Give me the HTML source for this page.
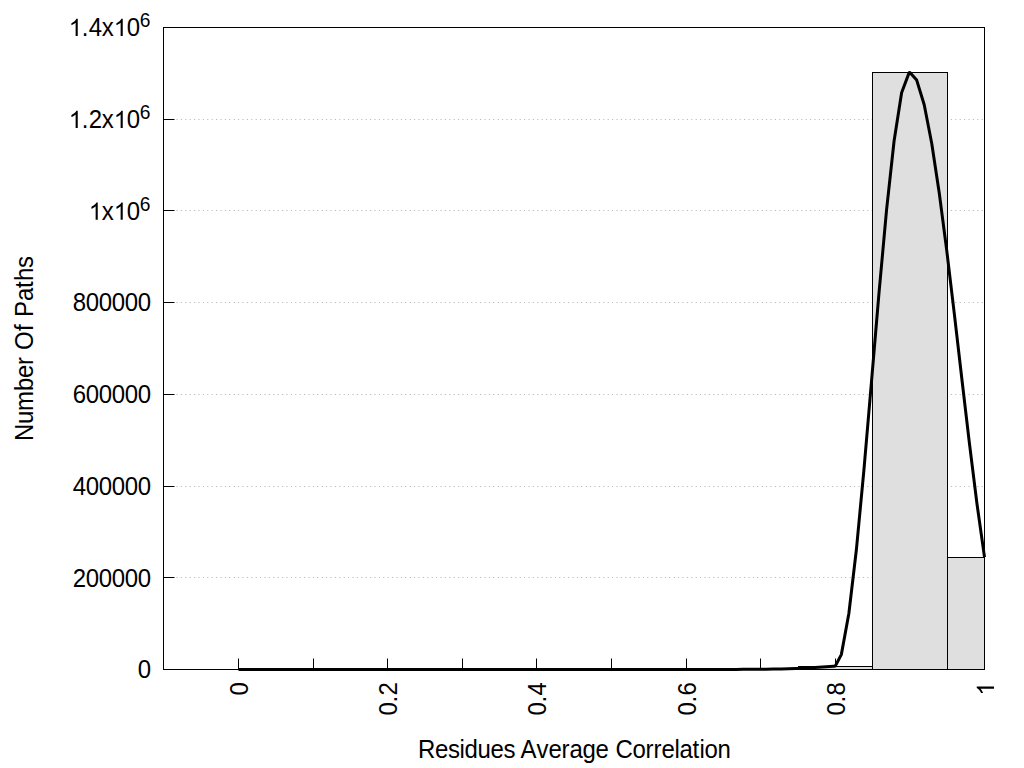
<!DOCTYPE html>
<html><head><meta charset="utf-8"><title>plot</title>
<style>
html,body{margin:0;padding:0;background:#fff;}
body{width:1024px;height:768px;overflow:hidden;}
svg{display:block;}
text{font-family:"Liberation Sans",sans-serif;fill:#000;}
</style></head><body>
<svg width="1024" height="768" viewBox="0 0 1024 768">
<rect x="0" y="0" width="1024" height="768" fill="#fff"/>

<line x1="176.5" y1="577.5" x2="984.5" y2="577.5" stroke="#000" stroke-opacity="0.3" stroke-width="1" stroke-dasharray="1 3.4"/>
<line x1="176.5" y1="486.5" x2="984.5" y2="486.5" stroke="#000" stroke-opacity="0.3" stroke-width="1" stroke-dasharray="1 3.4"/>
<line x1="176.5" y1="394.5" x2="984.5" y2="394.5" stroke="#000" stroke-opacity="0.3" stroke-width="1" stroke-dasharray="1 3.4"/>
<line x1="176.5" y1="302.5" x2="984.5" y2="302.5" stroke="#000" stroke-opacity="0.3" stroke-width="1" stroke-dasharray="1 3.4"/>
<line x1="176.5" y1="210.5" x2="984.5" y2="210.5" stroke="#000" stroke-opacity="0.3" stroke-width="1" stroke-dasharray="1 3.4"/>
<line x1="176.5" y1="119.5" x2="984.5" y2="119.5" stroke="#000" stroke-opacity="0.3" stroke-width="1" stroke-dasharray="1 3.4"/>
<line x1="238.5" y1="669.5" x2="238.5" y2="658.5" stroke="#000" stroke-width="1"/>
<line x1="313.5" y1="669.5" x2="313.5" y2="658.5" stroke="#000" stroke-width="1"/>
<line x1="387.5" y1="669.5" x2="387.5" y2="658.5" stroke="#000" stroke-width="1"/>
<line x1="462.5" y1="669.5" x2="462.5" y2="658.5" stroke="#000" stroke-width="1"/>
<line x1="536.5" y1="669.5" x2="536.5" y2="658.5" stroke="#000" stroke-width="1"/>
<line x1="611.5" y1="669.5" x2="611.5" y2="658.5" stroke="#000" stroke-width="1"/>
<line x1="686.5" y1="669.5" x2="686.5" y2="658.5" stroke="#000" stroke-width="1"/>
<line x1="760.5" y1="669.5" x2="760.5" y2="658.5" stroke="#000" stroke-width="1"/>
<line x1="835.5" y1="669.5" x2="835.5" y2="658.5" stroke="#000" stroke-width="1"/>
<line x1="909.5" y1="669.5" x2="909.5" y2="658.5" stroke="#000" stroke-width="1"/>
<rect x="723.5" y="669.5" width="75.0" height="0.0" fill="#dfdfdf" stroke="#000" stroke-width="1"/>
<rect x="798.5" y="666.5" width="74.0" height="3.0" fill="#dfdfdf" stroke="#000" stroke-width="1"/>
<rect x="872.5" y="72.5" width="75.0" height="597.0" fill="#dfdfdf" stroke="#000" stroke-width="1"/>
<rect x="947.5" y="557.5" width="37.0" height="112.0" fill="#dfdfdf" stroke="#000" stroke-width="1"/>
<path d="M238.50,669.50 L246.04,669.50 L253.57,669.50 L261.11,669.50 L268.64,669.50 L276.18,669.50 L283.71,669.50 L291.25,669.50 L298.78,669.50 L306.32,669.50 L313.85,669.50 L321.39,669.50 L328.92,669.50 L336.46,669.50 L343.99,669.50 L351.53,669.50 L359.07,669.50 L366.60,669.50 L374.14,669.50 L381.67,669.50 L389.21,669.50 L396.74,669.50 L404.28,669.50 L411.81,669.50 L419.35,669.50 L426.88,669.50 L434.42,669.50 L441.95,669.50 L449.49,669.50 L457.03,669.50 L464.56,669.50 L472.10,669.50 L479.63,669.50 L487.17,669.50 L494.70,669.50 L502.24,669.50 L509.77,669.50 L517.31,669.50 L524.84,669.50 L532.38,669.50 L539.91,669.50 L547.45,669.50 L554.98,669.50 L562.52,669.50 L570.06,669.50 L577.59,669.50 L585.13,669.50 L592.66,669.50 L600.20,669.50 L607.73,669.50 L615.27,669.50 L622.80,669.50 L630.34,669.50 L637.87,669.50 L645.41,669.50 L652.94,669.50 L660.48,669.50 L668.02,669.50 L675.55,669.50 L683.09,669.50 L690.62,669.50 L698.16,669.49 L705.69,669.48 L713.23,669.47 L720.76,669.45 L728.30,669.42 L735.83,669.39 L743.37,669.36 L750.90,669.32 L758.44,669.28 L765.97,669.23 L773.51,669.12 L781.05,668.97 L788.58,668.76 L796.12,668.49 L803.65,668.16 L811.19,667.77 L818.72,667.31 L826.26,666.78 L833.79,666.19 L835.30,666.06 L841.33,654.62 L848.86,613.55 L856.40,549.54 L863.93,469.89 L871.47,381.92 L879.01,292.91 L886.54,210.17 L894.08,141.01 L901.61,92.73 L909.15,72.62 L909.90,72.44 L916.68,80.09 L924.22,104.72 L931.75,143.44 L939.29,193.25 L946.82,251.15 L954.36,314.15 L961.89,379.25 L969.43,443.44 L976.96,503.74 L984.50,557.15" fill="none" stroke="#000" stroke-width="3" stroke-linejoin="round" stroke-linecap="butt"/>
<line x1="163.5" y1="577.5" x2="174.5" y2="577.5" stroke="#000" stroke-width="1"/>
<line x1="163.5" y1="486.5" x2="174.5" y2="486.5" stroke="#000" stroke-width="1"/>
<line x1="163.5" y1="394.5" x2="174.5" y2="394.5" stroke="#000" stroke-width="1"/>
<line x1="163.5" y1="302.5" x2="174.5" y2="302.5" stroke="#000" stroke-width="1"/>
<line x1="163.5" y1="210.5" x2="174.5" y2="210.5" stroke="#000" stroke-width="1"/>
<line x1="163.5" y1="119.5" x2="174.5" y2="119.5" stroke="#000" stroke-width="1"/>
<rect x="163.5" y="27.5" width="821.0" height="642.0" fill="none" stroke="#000" stroke-width="1"/>
<g transform="translate(150.80,678.30)"><text transform="scale(1,1.041)" x="-13.00" y="0" font-size="24">0</text></g>
<g transform="translate(150.80,586.59)"><text transform="scale(1,1.041)" x="-78.00 -65.00 -52.00 -39.00 -26.00 -13.00" y="0" font-size="24">200000</text></g>
<g transform="translate(150.80,494.87)"><text transform="scale(1,1.041)" x="-78.00 -65.00 -52.00 -39.00 -26.00 -13.00" y="0" font-size="24">400000</text></g>
<g transform="translate(150.80,403.16)"><text transform="scale(1,1.041)" x="-78.00 -65.00 -52.00 -39.00 -26.00 -13.00" y="0" font-size="24">600000</text></g>
<g transform="translate(150.80,311.44)"><text transform="scale(1,1.041)" x="-78.00 -65.00 -52.00 -39.00 -26.00 -13.00" y="0" font-size="24">800000</text></g>
<g transform="translate(139.80,219.73)"><text transform="scale(1,1.041)" x="-38.00 -13.00" y="0" font-size="24">x0</text><path transform="translate(-51.00,0) scale(0.01172,-0.01172)" d="M763,0 L583,0 L583,1147 Q518,1085 412.5,1023 Q307,961 223,930 L223,1104 Q374,1175 487,1276 Q600,1377 647,1472 L763,1472 Z" fill="#000"/><path transform="translate(-26.00,0) scale(0.01172,-0.01172)" d="M763,0 L583,0 L583,1147 Q518,1085 412.5,1023 Q307,961 223,930 L223,1104 Q374,1175 487,1276 Q600,1377 647,1472 L763,1472 Z" fill="#000"/></g>
<g transform="translate(139.80,210.73)"><text transform="scale(1,1.041)" x="0.00" y="0" font-size="19.2">6</text></g>
<g transform="translate(139.80,128.01)"><text transform="scale(1,1.041)" x="-58.00 -51.00 -38.00 -13.00" y="0" font-size="24">.2x0</text><path transform="translate(-71.00,0) scale(0.01172,-0.01172)" d="M763,0 L583,0 L583,1147 Q518,1085 412.5,1023 Q307,961 223,930 L223,1104 Q374,1175 487,1276 Q600,1377 647,1472 L763,1472 Z" fill="#000"/><path transform="translate(-26.00,0) scale(0.01172,-0.01172)" d="M763,0 L583,0 L583,1147 Q518,1085 412.5,1023 Q307,961 223,930 L223,1104 Q374,1175 487,1276 Q600,1377 647,1472 L763,1472 Z" fill="#000"/></g>
<g transform="translate(139.80,118.61)"><text transform="scale(1,1.041)" x="0.00" y="0" font-size="19.2">6</text></g>
<g transform="translate(139.80,36.10)"><text transform="scale(1,1.041)" x="-58.00 -51.00 -38.00 -13.00" y="0" font-size="24">.4x0</text><path transform="translate(-71.00,0) scale(0.01172,-0.01172)" d="M763,0 L583,0 L583,1147 Q518,1085 412.5,1023 Q307,961 223,930 L223,1104 Q374,1175 487,1276 Q600,1377 647,1472 L763,1472 Z" fill="#000"/><path transform="translate(-26.00,0) scale(0.01172,-0.01172)" d="M763,0 L583,0 L583,1147 Q518,1085 412.5,1023 Q307,961 223,930 L223,1104 Q374,1175 487,1276 Q600,1377 647,1472 L763,1472 Z" fill="#000"/></g>
<g transform="translate(139.80,26.70)"><text transform="scale(1,1.041)" x="0.00" y="0" font-size="19.2">6</text></g>
<g transform="translate(248.00,682.50) rotate(-90)"><text transform="scale(1,1.041)" x="-13.00" y="0" font-size="24">0</text></g>
<g transform="translate(397.00,682.50) rotate(-90)"><text transform="scale(1,1.041)" x="-33.00 -20.00 -13.00" y="0" font-size="24">0.2</text></g>
<g transform="translate(546.00,682.50) rotate(-90)"><text transform="scale(1,1.041)" x="-33.00 -20.00 -13.00" y="0" font-size="24">0.4</text></g>
<g transform="translate(696.00,682.50) rotate(-90)"><text transform="scale(1,1.041)" x="-33.00 -20.00 -13.00" y="0" font-size="24">0.6</text></g>
<g transform="translate(845.00,682.50) rotate(-90)"><text transform="scale(1,1.041)" x="-33.00 -20.00 -13.00" y="0" font-size="24">0.8</text></g>
<g transform="translate(994.00,682.50) rotate(-90)"><path transform="translate(-13.00,0) scale(0.01172,-0.01172)" d="M763,0 L583,0 L583,1147 Q518,1085 412.5,1023 Q307,961 223,930 L223,1104 Q374,1175 487,1276 Q600,1377 647,1472 L763,1472 Z" fill="#000"/></g>
<g transform="translate(575.40,758.30)"><text transform="scale(1,1.041)" x="-157.50 -140.50 -127.50 -115.80 -110.80 -97.80 -84.80 -71.80 -59.80 -54.80 -38.80 -26.80 -13.80 -5.80 7.20 20.20 33.20 40.20 57.20 70.20 78.20 86.20 99.20 104.20 117.20 124.20 129.20 142.20" y="0" font-size="24">Residues Average Correlation</text></g>
<g transform="translate(33.40,348.40) rotate(-90)"><text transform="scale(1,1.041)" x="-92.50 -75.50 -62.50 -42.50 -29.50 -16.50 -8.50 -1.50 17.50 24.50 31.50 47.50 60.50 67.50 80.50" y="0" font-size="24">Number Of Paths</text></g>
</svg></body></html>
